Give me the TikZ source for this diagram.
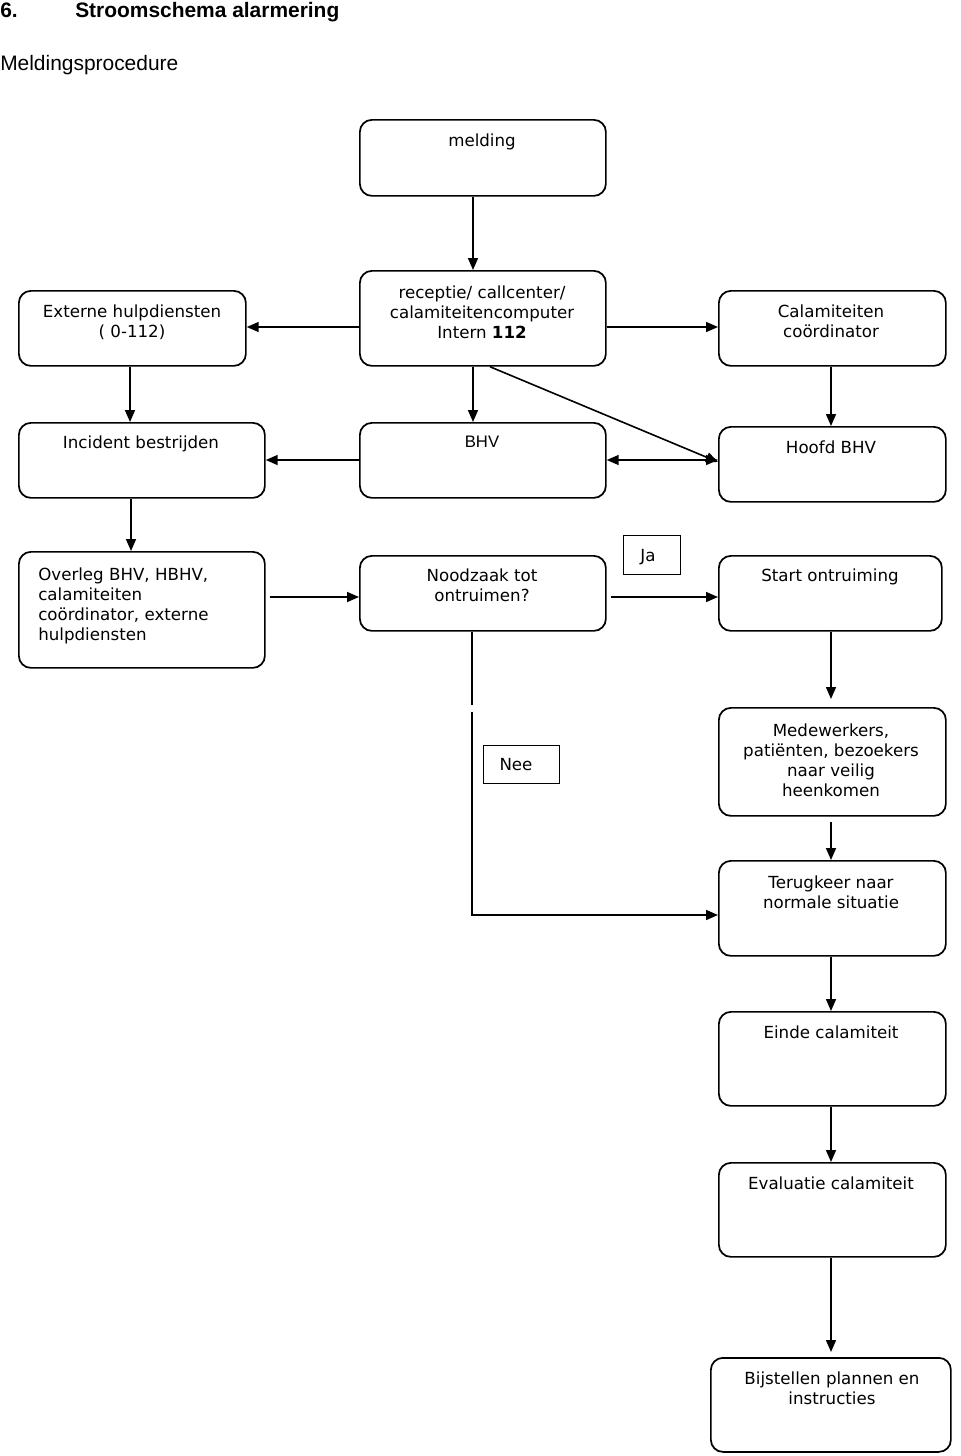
\documentclass[tikz,border=0pt]{standalone}
\usepackage{fontspec}
\setmainfont{DejaVu Sans}
\newfontfamily\arialfont{Liberation Sans}
\usetikzlibrary{arrows.meta}
\begin{document}
\begin{tikzpicture}[x=0.75pt,y=-0.75pt,
  box/.style={draw,line width=1.3pt,rounded corners=9pt,anchor=north west,inner sep=0pt},
  tag/.style={draw,line width=1pt,anchor=north west,inner sep=0pt},
  txt/.style={anchor=north,align=center,inner sep=0pt,font=\fontsize{12.5pt}{15pt}\selectfont},
  ltxt/.style={anchor=north west,align=left,inner sep=0pt,font=\fontsize{12.5pt}{15pt}\selectfont},
  arr/.style={line width=1.2pt,-{Triangle[length=9pt,width=7.5pt]}},
  barr/.style={line width=1.2pt,{Triangle[length=9pt,width=7.5pt]}-{Triangle[length=9pt,width=7.5pt]}},
  ln/.style={line width=1.2pt}]
\useasboundingbox (0,0) rectangle (960,1456);
% titles
\node[anchor=base west,inner sep=0pt,font=\arialfont\bfseries\fontsize{15.7pt}{18pt}\selectfont] (num) at (0,17) {6.};
\node[anchor=base west,inner sep=0pt,font=\arialfont\bfseries\fontsize{15.7pt}{18pt}\selectfont] (title) at (75,17) {Stroomschema alarmering};
\node[anchor=base west,inner sep=0pt,font=\arialfont\fontsize{15.7pt}{18pt}\selectfont] (sub) at (0,70) {Meldingsprocedure};
% boxes
\node[box,minimum width=246*0.75pt,minimum height=76*0.75pt] (mel) at (359,119) {};
\node[box,minimum width=227*0.75pt,minimum height=75*0.75pt] (ext) at (18,290) {};
\node[box,minimum width=246*0.75pt,minimum height=95*0.75pt] (rec) at (359,270) {};
\node[box,minimum width=227*0.75pt,minimum height=75*0.75pt] (cal) at (718,290) {};
\node[box,minimum width=246*0.75pt,minimum height=75*0.75pt] (inc) at (18,422) {};
\node[box,minimum width=246*0.75pt,minimum height=75*0.75pt] (bhv) at (359,422) {};
\node[box,minimum width=227*0.75pt,minimum height=75*0.75pt] (hbhv) at (718,426) {};
\node[box,minimum width=246*0.75pt,minimum height=116*0.75pt] (ovl) at (18,551) {};
\node[box,minimum width=246*0.75pt,minimum height=75*0.75pt] (noo) at (359,555) {};
\node[box,minimum width=223*0.75pt,minimum height=75*0.75pt] (sta) at (718,555) {};
\node[box,minimum width=227*0.75pt,minimum height=108*0.75pt] (med) at (718,707) {};
\node[box,minimum width=227*0.75pt,minimum height=95*0.75pt] (ter) at (718,860) {};
\node[box,minimum width=227*0.75pt,minimum height=94*0.75pt] (ein) at (718,1011) {};
\node[box,minimum width=227*0.75pt,minimum height=94*0.75pt] (eva) at (718,1162) {};
\node[box,minimum width=240*0.75pt,minimum height=94*0.75pt] (bij) at (710,1357) {};
\node[tag,minimum width=57*0.75pt,minimum height=39*0.75pt] (ja) at (623,535) {};
\node[tag,minimum width=76*0.75pt,minimum height=38*0.75pt] (nee) at (483,745) {};
% texts
\node[txt] (tmel) at (482,134) {melding};
\node[txt] (text) at (132,305) {Externe hulpdiensten\\( 0-112)};
\node[txt] (trec) at (482,286) {receptie/ callcenter/\\calamiteitencomputer\\Intern \textbf{112}};
\node[txt] (tcal) at (831,305) {Calamiteiten\\coördinator};
\node[txt] (tinc) at (141,436) {Incident bestrijden};
\node[txt,font=\arialfont\fontsize{12.5pt}{15pt}\selectfont] (tbhv) at (482,436) {BHV};
\node[txt] (thbhv) at (831,441) {Hoofd BHV};
\node[ltxt] (tovl) at (38,568) {Overleg BHV, HBHV,\\calamiteiten\\coördinator, externe\\hulpdiensten};
\node[txt] (tnoo) at (482,569) {Noodzaak tot\\ontruimen?};
\node[txt] (tsta) at (830,569) {Start ontruiming};
\node[txt] (tmed) at (831,724) {Medewerkers,\\patiënten, bezoekers\\naar veilig\\heenkomen};
\node[txt] (tter) at (831,876) {Terugkeer naar\\normale situatie};
\node[txt] (tein) at (831,1026) {Einde calamiteit};
\node[txt] (teva) at (831,1177) {Evaluatie calamiteit};
\node[txt] (tbij) at (832,1372) {Bijstellen plannen en\\instructies};
\node[txt] (tja) at (648,549) {Ja};
\node[txt] (tnee) at (516,758) {Nee};
% connectors
\draw[arr] (mel.south -| 473,0) -- (rec.north -| 473,0);
\draw[arr] (rec.west |- 0,327) -- (ext.east |- 0,327);
\draw[arr] (rec.east |- 0,327) -- (cal.west |- 0,327);
\draw[arr] (ext.south -| 130,0) -- (inc.north -| 130,0);
\draw[arr] (rec.south -| 473,0) -- (bhv.north -| 473,0);
\draw[arr] (cal.south -| 831,0) -- (hbhv.north -| 831,0);
\draw[arr] (rec.south -| 490,0) -- (hbhv.west |- 0,462);
\draw[barr] (bhv.east |- 0,460) -- (hbhv.west |- 0,460);
\draw[arr] (bhv.west |- 0,460) -- (inc.east |- 0,460);
\draw[arr] (inc.south -| 131,0) -- (ovl.north -| 131,0);
\draw[arr] (ovl.east |- 0,597) ++(4,0) -- (noo.west |- 0,597);
\draw[arr] (noo.east |- 0,597) ++(4,0) -- (sta.west |- 0,597);
\coordinate (sm) at (831,699);
\draw[arr] (sta.south -| 831,0) -- (sm);
\coordinate (gap1) at (472,705);
\coordinate (gap2) at (472,712);
\coordinate (corner) at (472,915);
\draw[ln] (noo.south -| 472,0) -- (gap1);
\draw[arr] (gap2) -- (corner) -- (ter.west |- corner);
\draw[arr] (med.south -| 831,0) ++(0,5) -- (ter.north -| 831,0);
\draw[arr] (ter.south -| 831,0) -- (ein.north -| 831,0);
\draw[arr] (ein.south -| 831,0) -- (eva.north -| 831,0);
\coordinate (eb) at (831,1352);
\draw[arr] (eva.south -| 831,0) -- (eb);
\end{tikzpicture}
\end{document}
